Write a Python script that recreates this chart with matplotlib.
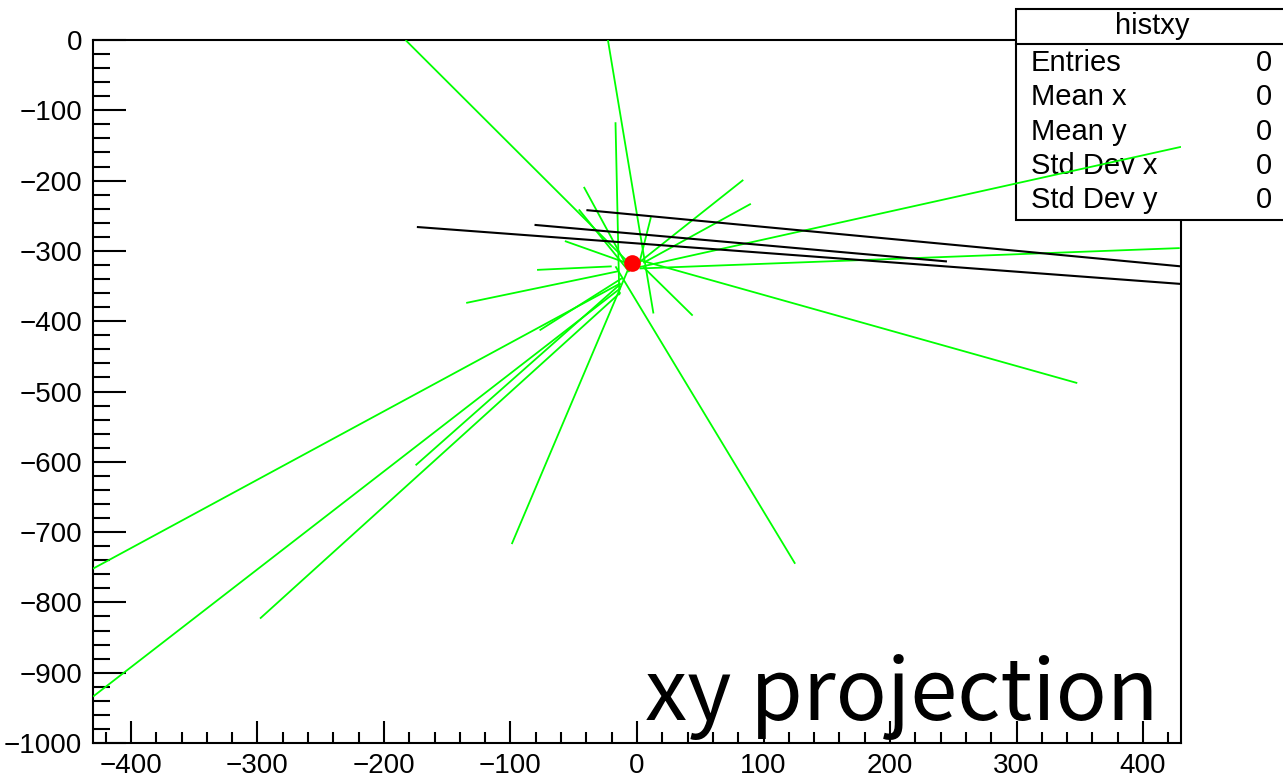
"""Track display: xy projection of green tracks, black tracks and the vertex."""
import matplotlib

matplotlib.use("Agg")
from matplotlib import pyplot as plt
from matplotlib.patches import Rectangle
from matplotlib.ticker import MultipleLocator

# green tracks, start (x0, y0) -> end (x1, y1)
green_x0 = [-183, -23, -17, -42, -46, 84, 90, 430, 429, 348, 125, -99, 44,
            -430, -430, -298, -175, -77, -135, -79, -57, 11]
green_y0 = [0, 0, -117, -209, -241, -199, -233, -152, -296, -488, -745, -717, -392,
            -752, -934, -823, -605, -413, -374, -327, -286, -252]
green_x1 = [-7, 13, -14, -7, -6, 2, 5, 2, 2, 2, -17, -6, 5,
            -13, -13, -13, -13, -12, -15, -20, -10, 2]
green_y1 = [-316, -389, -363, -325, -330, -316, -317, -323, -325, -313, -322, -322, -323,
            -346, -353, -359, -347, -339, -329, -322, -316, -316]

# black tracks
black_x0 = [-174, -81, -40]
black_y0 = [-266, -263, -242]
black_x1 = [430, 245, 430]
black_y1 = [-347, -315, -322]

# reconstructed vertex
vertex_x = [-4]
vertex_y = [-317]

stats_labels = ["Entries", "Mean x", "Mean y", "Std Dev x", "Std Dev y"]
stats_values = ["0", "0", "0", "0", "0"]

W, H = 1283, 778


def fx(px):
    return px / W


def fy(py):
    return 1 - py / H


if __name__ == "__main__":
    plt.rcParams["font.family"] = ["Liberation Sans", "DejaVu Sans"]
    fig = plt.figure(figsize=(W / 100, H / 100), dpi=100)
    ax = fig.add_axes([fx(93), fy(743), fx(1088), 703 / H])

    # tracks are drawn after the stats box, as ROOT does
    for x0, y0, x1, y1 in zip(green_x0, green_y0, green_x1, green_y1):
        ax.plot([x0, x1], [y0, y1], color="#00ff00", lw=1.3,
                solid_capstyle="butt", zorder=4)
    for x0, y0, x1, y1 in zip(black_x0, black_y0, black_x1, black_y1):
        ax.plot([x0, x1], [y0, y1], color="black", lw=1.5,
                solid_capstyle="butt", zorder=4)
    ax.plot(vertex_x, vertex_y, "o", color="red", markersize=12,
            markeredgewidth=0, zorder=5)

    ax.set_xlim(-430, 430)
    ax.set_ylim(-1000, 0)
    ax.xaxis.set_major_locator(MultipleLocator(100))
    ax.xaxis.set_minor_locator(MultipleLocator(20))
    ax.yaxis.set_major_locator(MultipleLocator(100))
    ax.yaxis.set_minor_locator(MultipleLocator(20))
    ax.tick_params(axis="both", which="both", direction="in", width=1.5,
                   labelsize=20, top=False, right=False)
    ax.tick_params(axis="x", which="major", length=16, pad=7)
    ax.tick_params(axis="x", which="minor", length=8)
    ax.tick_params(axis="y", which="major", length=24, pad=8)
    ax.tick_params(axis="y", which="minor", length=12)
    for sp in ax.spines.values():
        sp.set_linewidth(1.5)

    # stats box, running off the right edge of the canvas
    ax.add_patch(Rectangle((fx(1016), fy(220)), fx(1288 - 1016), (220 - 9) / H,
                           transform=fig.transFigure, facecolor="white",
                           edgecolor="black", lw=1.5, zorder=3, clip_on=False))
    ax.plot([fx(1016), fx(1288)], [fy(44), fy(44)], transform=fig.transFigure,
            color="black", lw=1.5, zorder=3, clip_on=False)
    ax.text(fx(1152), fy(26), "histxy", transform=fig.transFigure,
            ha="center", va="center", fontsize=21, zorder=3.5)
    for k, (label, value) in enumerate(zip(stats_labels, stats_values)):
        yy = fy(63 + k * 34.3)
        ax.text(fx(1031), yy, label, transform=fig.transFigure,
                ha="left", va="center", fontsize=21, zorder=3.5)
        ax.text(fx(1272), yy, value, transform=fig.transFigure,
                ha="right", va="center", fontsize=21, zorder=3.5)

    fig.text(fx(645), fy(720), "xy projection", ha="left", va="baseline",
             fontsize=61, family=["Noto Sans CJK JP", "DejaVu Sans"])

    fig.savefig("out.png", dpi=100)
